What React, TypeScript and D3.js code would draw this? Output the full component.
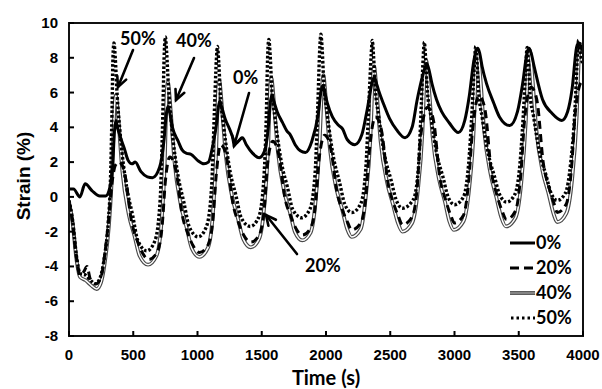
import * as d3 from 'd3';

// axis ticks and legend labels
const xTicks = [0, 500, 1000, 1500, 2000, 2500, 3000, 3500, 4000];
const yTicks = [-8, -6, -4, -2, 0, 2, 4, 6, 8, 10];
const seriesLabels = ['0%', '20%', '40%', '50%'];

// [time (s), strain (%)]
const strain0: [number, number][] = [
  [0, 0.45], [35, 0.45], [85, 0.0], [125, 0.75], [180, 0.35], [240, 0.05], [285, 0.05], [320, 0.6], [340, 1.8], [354, 3.8], [365, 4.4],
  [377, 4.0], [397, 3.5], [430, 2.8], [460, 2.1], [490, 1.9], [515, 2.0], [560, 1.45], [610, 1.15], [650, 1.1], [705, 1.7], [740, 3.3], [758, 4.8], [770, 5.2],
  [782, 4.9], [805, 4.0], [850, 3.2], [880, 2.7], [915, 2.5], [950, 2.45], [1000, 2.1], [1050, 1.9], [1085, 2.0], [1120, 3.0], [1150, 4.3], [1163, 5.2], [1175, 5.5],
  [1187, 5.2], [1215, 4.5], [1250, 3.9], [1300, 3.1], [1350, 3.4], [1380, 3.0], [1430, 2.5], [1480, 2.25], [1520, 2.6], [1550, 3.9], [1568, 5.5], [1580, 5.85],
  [1592, 5.55], [1620, 4.9], [1660, 4.3], [1695, 3.8], [1720, 3.6], [1760, 3.0], [1800, 2.65], [1840, 2.55], [1890, 3.2], [1940, 4.8], [1962, 6.1], [1975, 6.4],
  [1987, 6.1], [2010, 5.4], [2050, 4.6], [2100, 4.1], [2130, 3.9], [2165, 3.3], [2225, 3.0], [2280, 3.6], [2320, 5.0], [2360, 6.6], [2375, 6.9],
  [2390, 6.6], [2410, 6.1], [2445, 5.4], [2495, 4.5], [2550, 3.85], [2615, 3.4], [2670, 4.0], [2710, 5.6], [2768, 7.35], [2785, 7.65],
  [2800, 7.35], [2825, 6.5], [2860, 5.6], [2900, 4.9], [2960, 4.25], [3030, 3.7], [3080, 4.4], [3115, 5.8], [3150, 7.8], [3168, 8.4], [3180, 8.55],
  [3195, 8.3], [3215, 7.5], [3250, 6.5], [3305, 5.4], [3350, 4.6], [3430, 4.1], [3490, 4.9], [3530, 6.5], [3565, 8.3], [3580, 8.55],
  [3595, 8.3], [3620, 7.5], [3685, 5.6], [3760, 4.8], [3835, 4.4], [3880, 4.9], [3915, 6.2], [3950, 8.6], [3965, 8.85], [3980, 8.7], [4000, 8.4],
];

const strain20: [number, number][] = [
  [0, -0.3], [25, -1.3], [60, -3.6], [85, -4.5], [115, -4.3], [140, -4.0], [165, -4.7], [210, -5.0], [250, -4.6], [280, -3.2], [310, -1.2], [335, 0.8], [360, 1.8], [390, 2.0],
  [415, 1.8], [440, 1.1], [485, -1.35], [530, -2.5], [570, -3.2], [620, -3.6], [685, -3.2], [725, -1.65], [750, 0.9], [785, 2.3],
  [810, 2.1], [835, 1.4], [880, -1.0], [925, -2.1], [965, -2.8], [1015, -3.2], [1080, -2.8], [1120, -1.3], [1145, 1.2], [1180, 3.0],
  [1205, 2.8], [1230, 2.1], [1275, -0.35], [1320, -1.5], [1360, -2.2], [1415, -2.6], [1480, -2.2], [1520, -0.65], [1545, 1.9], [1585, 3.2],
  [1610, 3.0], [1635, 2.3], [1680, -0.05], [1725, -1.1], [1765, -1.8], [1815, -2.2], [1880, -1.8], [1920, -0.3], [1945, 2.1], [1990, 3.55],
  [2015, 3.35], [2040, 2.65], [2085, 0.3], [2130, -0.8], [2170, -1.5], [2200, -1.9], [2270, -1.5], [2310, 0.0], [2335, 2.45], [2385, 4.6],
  [2410, 4.4], [2435, 3.7], [2480, 0.9], [2525, -0.35], [2565, -1.15], [2595, -1.6], [2670, -1.15], [2710, 0.55], [2735, 3.35], [2790, 5.15],
  [2815, 4.95], [2840, 4.25], [2885, 1.15], [2930, -0.15], [2970, -1.05], [3000, -1.5], [3070, -1.05], [3110, 0.85], [3140, 3.8], [3190, 5.8],
  [3215, 5.6], [3240, 4.9], [3285, 1.55], [3330, 0.1], [3370, -0.8], [3405, -1.3], [3475, -0.8], [3515, 1.2], [3545, 4.4], [3595, 6.3],
  [3620, 6.1], [3645, 5.4], [3690, 2.0], [3735, 0.55], [3775, -0.4], [3800, -0.9], [3870, -0.4], [3910, 1.6], [3940, 4.85], [3990, 6.6], [4000, 6.6],
];

const strain40: [number, number][] = [
  [0, -0.3], [25, -1.3], [60, -3.7], [85, -4.6], [130, -4.8], [175, -5.1], [215, -5.3], [250, -4.9], [280, -3.7], [310, -1.7], [330, 0.6], [345, 3.5], [355, 5.3], [365, 5.85],
  [375, 5.3], [387, 4.2], [415, 1.5], [465, -1.0], [510, -2.25], [550, -3.4], [615, -3.9], [680, -3.4], [720, -1.45], [745, 1.95], [760, 6.0], [770, 6.6],
  [780, 6.0], [792, 4.9], [820, 2.1], [870, -0.45], [915, -1.75], [955, -2.95], [1015, -3.45], [1080, -2.95], [1120, -0.95], [1145, 2.6], [1160, 6.1], [1170, 6.7],
  [1180, 6.1], [1192, 5.0], [1220, 2.4], [1270, 0.0], [1315, -1.25], [1355, -2.4], [1415, -2.9], [1480, -2.4], [1520, -0.5], [1550, 2.9], [1565, 6.25], [1575, 6.85],
  [1585, 6.3], [1597, 5.2], [1625, 2.65], [1675, 0.3], [1720, -0.9], [1760, -2.05], [1815, -2.5], [1880, -2.05], [1920, -0.15], [1950, 3.1], [1970, 6.4], [1980, 7.0],
  [1990, 6.4], [2002, 5.3], [2030, 2.8], [2080, 0.5], [2125, -0.7], [2165, -1.85], [2200, -2.3], [2270, -1.85], [2310, 0.05], [2345, 3.3], [2365, 6.9], [2375, 7.5],
  [2385, 6.9], [2397, 5.8], [2425, 3.2], [2475, 0.85], [2520, -0.4], [2560, -1.5], [2595, -2.0], [2670, -1.5], [2715, 0.4], [2750, 3.7], [2770, 7.3], [2780, 7.85],
  [2790, 7.3], [2802, 6.2], [2830, 3.45], [2880, 1.0], [2925, -0.25], [2960, -1.4], [2995, -1.9], [3070, -1.4], [3115, 0.55], [3150, 3.95], [3170, 7.9], [3180, 8.45],
  [3190, 7.9], [3202, 6.8], [3230, 3.9], [3280, 1.35], [3325, 0.0], [3365, -1.2], [3400, -1.7], [3475, -1.2], [3520, 0.85], [3555, 4.4], [3575, 7.9], [3585, 8.45],
  [3595, 7.9], [3607, 6.8], [3635, 4.0], [3685, 1.5], [3730, 0.25], [3770, -0.95], [3800, -1.45], [3870, -0.95], [3915, 1.0], [3950, 4.5], [3970, 8.3], [3980, 8.8],
  [3992, 8.5], [4000, 8.3],
];

const strain50: [number, number][] = [
  [0, -0.2], [25, -1.2], [60, -3.5], [85, -4.4], [130, -4.5], [175, -4.85], [205, -5.0], [240, -4.7], [275, -3.5], [305, -1.5], [322, 0.8], [335, 5.0], [342, 8.0], [350, 8.85],
  [360, 8.0], [372, 6.2], [400, 3.5], [450, 0.5], [495, -1.05], [535, -2.5], [605, -3.1], [670, -2.5], [710, -0.1], [728, 4.1], [742, 8.4], [750, 9.2],
  [760, 8.3], [772, 6.6], [800, 4.0], [850, 1.15], [895, -0.35], [935, -1.7], [1005, -2.3], [1070, -1.7], [1110, 0.6], [1130, 4.6], [1147, 7.9], [1155, 8.65],
  [1165, 7.8], [1177, 6.0], [1205, 4.0], [1255, 1.4], [1300, 0.05], [1340, -1.2], [1410, -1.7], [1475, -1.2], [1515, 0.9], [1535, 4.5], [1547, 8.3], [1555, 9.05],
  [1565, 8.2], [1577, 6.4], [1605, 4.45], [1655, 1.9], [1700, 0.55], [1740, -0.7], [1810, -1.2], [1875, -0.7], [1915, 1.35], [1935, 4.95], [1952, 8.6], [1960, 9.35],
  [1970, 8.5], [1982, 6.7], [2010, 4.75], [2060, 2.2], [2105, 0.85], [2145, -0.4], [2200, -0.9], [2270, -0.4], [2310, 1.65], [2333, 5.25], [2352, 8.2], [2360, 9.0],
  [2370, 8.1], [2382, 6.4], [2410, 4.65], [2460, 2.25], [2505, 1.0], [2545, -0.15], [2595, -0.65], [2680, -0.15], [2720, 1.75], [2741, 5.15], [2757, 8.1], [2765, 8.9],
  [2775, 8.0], [2787, 6.3], [2815, 4.7], [2865, 2.35], [2910, 1.15], [2950, 0.0], [3000, -0.45], [3070, 0.0], [3110, 1.9], [3138, 5.15], [3157, 7.9], [3165, 8.65],
  [3175, 7.8], [3187, 6.1], [3215, 4.6], [3265, 2.4], [3310, 1.2], [3350, 0.15], [3405, -0.3], [3470, 0.15], [3510, 1.95], [3538, 5.05], [3557, 7.8], [3565, 8.6],
  [3575, 7.8], [3587, 6.0], [3615, 4.65], [3665, 2.45], [3710, 1.3], [3750, 0.25], [3800, -0.2], [3865, 0.25], [3905, 2.0], [3938, 5.1], [3957, 8.2], [3965, 9.0],
  [3978, 8.3], [4000, 7.6],
];

const calibri = 'Lato, "Open Sans", sans-serif';
const arial = '"Liberation Sans", Arial, sans-serif';

function Arrow({ x1, y1, x2, y2 }: { x1: number; y1: number; x2: number; y2: number }) {
  const a = Math.atan2(y2 - y1, x2 - x1);
  const len = 11;
  const spread = 0.45;
  const h1 = [x2 - len * Math.cos(a - spread), y2 - len * Math.sin(a - spread)];
  const h2 = [x2 - len * Math.cos(a + spread), y2 - len * Math.sin(a + spread)];
  return (
    <g stroke="#000" strokeWidth={2.6} fill="none" strokeLinecap="round">
      <line x1={x1} y1={y1} x2={x2} y2={y2} />
      <polyline points={`${h1[0]},${h1[1]} ${x2},${y2} ${h2[0]},${h2[1]}`} />
    </g>
  );
}

export default function App() {
  const x = d3.scaleLinear().domain([0, 4000]).range([69, 583]);
  const y = d3.scaleLinear().domain([-8, 10]).range([336, 23]);
  const line = d3
    .line<[number, number]>()
    .x((d) => x(d[0]))
    .y((d) => y(d[1]))
    .curve(d3.curveMonotoneX);

  const legendY = [243, 268, 293, 318];

  return (
    <svg
      width={602}
      height={389}
      style={{ position: 'absolute', left: 0, top: 0, background: '#fff' }}
    >
      <defs>
        <clipPath id="plot">
          <rect x={69} y={23} width={514} height={313} />
        </clipPath>
      </defs>

      <g clipPath="url(#plot)" fill="none" strokeLinejoin="round">
        {/* 40%: grey double line */}
        <path d={line(strain40) || ''} stroke="#4a4a4a" strokeWidth={3.8} />
        <path d={line(strain40) || ''} stroke="#fff" strokeWidth={1.5} />
        {/* 20%: dashed */}
        <path d={line(strain20) || ''} stroke="#000" strokeWidth={3} strokeDasharray="8,5" />
        {/* 50%: dotted */}
        <path d={line(strain50) || ''} stroke="#000" strokeWidth={3.4} strokeDasharray="2.6,2" />
        {/* 0%: solid */}
        <path d={line(strain0) || ''} stroke="#000" strokeWidth={3} />
      </g>

      {/* frame */}
      <rect x={69} y={23} width={514} height={313} fill="none" stroke="#111" strokeWidth={2} />

      {/* y axis ticks */}
      {yTicks.map((t) => (
        <g key={'y' + t}>
          <line x1={69} x2={74} y1={y(t)} y2={y(t)} stroke="#000" strokeWidth={2} />
          <text
            x={58}
            y={y(t) + 5}
            textAnchor="end"
            fontFamily={arial}
            fontWeight="bold"
            fontSize={15}
          >
            {t}
          </text>
        </g>
      ))}

      {/* x axis ticks */}
      {xTicks.map((t) => (
        <g key={'x' + t}>
          <line x1={x(t)} x2={x(t)} y1={336} y2={331} stroke="#000" strokeWidth={2} />
          <text
            x={x(t)}
            y={360}
            textAnchor="middle"
            fontFamily={arial}
            fontWeight="bold"
            fontSize={15}
          >
            {t}
          </text>
        </g>
      ))}

      {/* axis titles */}
      <text
        transform="translate(30,176) rotate(-90)"
        textAnchor="middle"
        fontFamily={arial}
        fontWeight="bold"
        fontSize={19}
      >
        Strain (%)
      </text>
      <text x={326} y={385} textAnchor="middle" fontFamily={calibri} fontWeight="bold" fontSize={20}>
        Time (s)
      </text>

      {/* annotations */}
      <g fontFamily={calibri} fontWeight="bold" fontSize={18}>
        <text x={120} y={45}>50%</text>
        <text x={176} y={47}>40%</text>
        <text x={233} y={84}>0%</text>
        <text x={305} y={272}>20%</text>
      </g>
      <Arrow x1={133} y1={50} x2={118} y2={87} />
      <Arrow x1={194} y1={58} x2={176} y2={100} />
      <Arrow x1={249} y1={93} x2={234} y2={146} />
      <Arrow x1={297} y1={254} x2={266} y2={215} />

      {/* legend */}
      <g fontFamily={calibri} fontWeight="bold" fontSize={18}>
        {seriesLabels.map((s, i) => {
          const ly = legendY[i];
          return (
            <g key={s}>
              {i === 0 && <line x1={510} x2={535} y1={ly} y2={ly} stroke="#000" strokeWidth={3} />}
              {i === 1 && (
                <line x1={510} x2={535} y1={ly} y2={ly} stroke="#000" strokeWidth={3} strokeDasharray="9,5" />
              )}
              {i === 2 && (
                <g>
                  <line x1={510} x2={535} y1={ly} y2={ly} stroke="#4a4a4a" strokeWidth={3.8} />
                  <line x1={510} x2={535} y1={ly} y2={ly} stroke="#999" strokeWidth={1.5} />
                </g>
              )}
              {i === 3 && (
                <line x1={511} x2={535} y1={ly} y2={ly} stroke="#000" strokeWidth={3} strokeDasharray="2.5,3" />
              )}
              <text x={536} y={ly + 6}>
                {s}
              </text>
            </g>
          );
        })}
      </g>
    </svg>
  );
}
